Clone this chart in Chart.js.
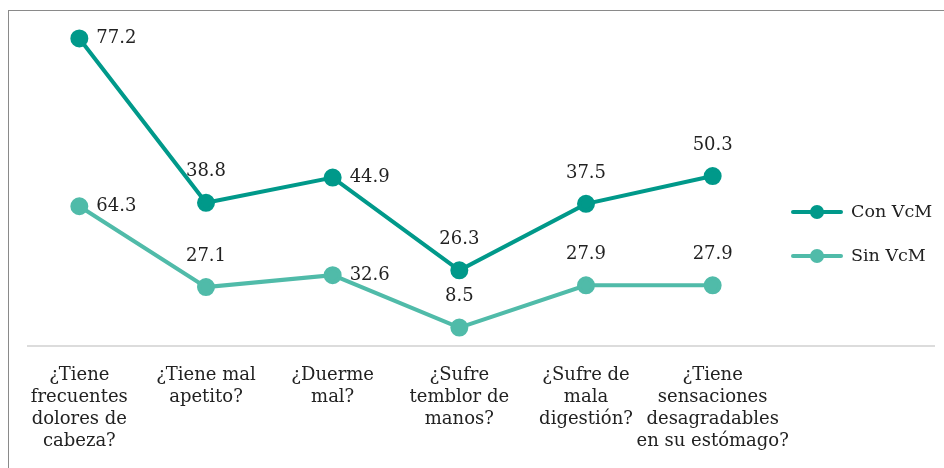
<!DOCTYPE html>
<html>
<head>
<meta charset="utf-8">
<script src="https://cdn.jsdelivr.net/npm/chart.js@4.4.1/dist/chart.umd.min.js"></script>
<style>
  html, body { margin: 0; padding: 0; overflow: hidden; background: #fff; }
  #frame { position: absolute; left: 8px; top: 10px; width: 1000px; height: 500px;
           border: 1px solid #8a8a8a; box-sizing: border-box; }
  #graph { position: absolute; left: 0; top: 0; }
</style>
</head>
<body>
<div id="frame"></div>
<canvas id="graph" width="944" height="468"></canvas>
<script>
// categories (multi-line labels, as in the picture)
const categories = [
  ["¿Tiene", "frecuentes", "dolores de", "cabeza?"],
  ["¿Tiene mal", "apetito?"],
  ["¿Duerme", "mal?"],
  ["¿Sufre", "temblor de", "manos?"],
  ["¿Sufre de", "mala", "digestión?"],
  ["¿Tiene", "sensaciones", "desagradables", "en su estómago?"]
];
const conVcM = [77.2, 38.8, 44.9, 26.3, 37.5, 50.3];
const sinVcM = [64.3, 27.1, 32.6, 8.5, 27.9, 27.9];

const FONT = "'DejaVu Serif', 'Liberation Serif', serif";
const conColor = "#00998a";
const sinColor = "#50bba9";

// where each value label sits next to its point
const labelSide = ["right", "top", "right", "top", "top", "top"];

const valueLabels = {
  id: "valueLabels",
  afterDatasetsDraw(chart) {
    const ctx = chart.ctx;
    ctx.save();
    ctx.font = "18px " + FONT;
    ctx.fillStyle = "#222";
    ctx.textBaseline = "middle";
    chart.data.datasets.forEach((ds, di) => {
      const meta = chart.getDatasetMeta(di);
      meta.data.forEach((pt, i) => {
        const txt = ds.data[i].toFixed(1);
        if (labelSide[i] === "right") {
          ctx.textAlign = "left";
          ctx.fillText(txt, pt.x + 17, pt.y);
        } else {
          ctx.textAlign = "center";
          ctx.fillText(txt, pt.x, pt.y - 31);
        }
      });
    });
    ctx.restore();
  }
};

const axisAndLegend = {
  id: "axisAndLegend",
  beforeDatasetsDraw(chart) {
    const ctx = chart.ctx;
    const y = chart.chartArea.bottom;
    ctx.save();
    ctx.strokeStyle = "#d0d0d0";
    ctx.lineWidth = 1.5;
    ctx.beginPath();
    ctx.moveTo(27, y);
    ctx.lineTo(935, y);
    ctx.stroke();
    ctx.restore();
  },
  afterDraw(chart) {
    const ctx = chart.ctx;
    const x0 = chart.chartArea.right + 17;
    // legend lists "Con VcM" first
    const items = chart.data.datasets.slice().reverse();
    ctx.save();
    ctx.font = "17.5px " + FONT;
    ctx.textBaseline = "middle";
    ctx.textAlign = "left";
    items.forEach((ds, i) => {
      const y = 212 + i * 44;
      ctx.strokeStyle = ds.borderColor;
      ctx.lineWidth = 4;
      ctx.lineCap = "round";
      ctx.beginPath();
      ctx.moveTo(x0, y);
      ctx.lineTo(x0 + 48, y);
      ctx.stroke();
      ctx.fillStyle = ds.borderColor;
      ctx.beginPath();
      ctx.arc(x0 + 24, y, 7, 0, Math.PI * 2);
      ctx.fill();
      ctx.fillStyle = "#222";
      ctx.fillText(ds.label, x0 + 58, y);
    });
    ctx.restore();
  }
};

const ctx = document.getElementById("graph");

new Chart(ctx, {
  type: "line",
  data: {
    labels: categories,
    datasets: [
      {
        label: "Sin VcM",
        data: sinVcM,
        borderColor: sinColor,
        backgroundColor: sinColor,
        borderWidth: 4,
        pointRadius: 7,
        pointHoverRadius: 7,
        tension: 0
      },
      {
        label: "Con VcM",
        data: conVcM,
        borderColor: conColor,
        backgroundColor: conColor,
        borderWidth: 4,
        pointRadius: 7,
        pointHoverRadius: 7,
        tension: 0
      }
    ]
  },
  options: {
    responsive: false,
    animation: false,
    layout: { padding: { left: 16, right: 168, top: 20, bottom: 0 } },
    plugins: {
      legend: { display: false },
      tooltip: { enabled: false }
    },
    scales: {
      x: {
        offset: true,
        grid: { display: false },
        border: { display: false },
        ticks: {
          color: "#222",
          font: { family: FONT, size: 18, lineHeight: 1.23 },
          padding: 10,
          maxRotation: 0,
          autoSkip: false
        },
        afterFit(scale) { scale.height = 122; }
      },
      y: {
        display: false,
        stacked: true,
        min: 0,
        max: 150
      }
    }
  },
  plugins: [valueLabels, axisAndLegend]
});
</script>
</body>
</html>
